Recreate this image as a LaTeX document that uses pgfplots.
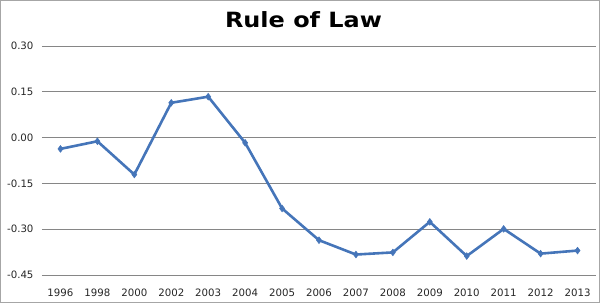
\documentclass[border=0pt]{standalone}
\usepackage{pgfplots}
\pgfplotsset{compat=1.18}
\usepackage{fontspec}
\setmainfont{DejaVu Sans}
\definecolor{linec}{HTML}{4575B9}
\definecolor{gridc}{HTML}{868686}
\definecolor{borderc}{HTML}{A6A6A6}
\begin{document}
\begin{tikzpicture}
\begin{axis}[
  scale only axis,
  width=554bp, height=229bp,
  at={(0,0)}, anchor=south west,
  xmin=-0.5, xmax=14.5,
  ymin=-0.45, ymax=0.30,
  xtick=data,
  xticklabels={1996,1998,2000,2002,2003,2004,2005,2006,2007,2008,2009,2010,2011,2012,2013},
  ytick={-0.45,-0.30,-0.15,0,0.15,0.30},
  yticklabels={-0.45,-0.30,-0.15,0.00,0.15,0.30},
  axis line style={draw=none},
  ymajorgrids,
  grid style={gridc, line width=0.9bp},
  major tick length=0pt,
  tick label style={font=\fontsize{10.2bp}{12bp}\selectfont, text=black!85},
  yticklabel style={anchor=east, xshift=-5bp},
  xticklabel style={anchor=north, yshift=-10.5bp},
  clip=false,
]
\addplot[color=linec, line width=2.6bp, mark=diamond*, mark size=3.4bp, mark options={fill=linec, line width=0.5bp}]
coordinates {
(0,-0.037) (1,-0.012) (2,-0.121) (3,0.114) (4,0.134) (5,-0.017) (6,-0.232) (7,-0.336) (8,-0.383) (9,-0.376) (10,-0.276) (11,-0.388) (12,-0.299) (13,-0.380) (14,-0.370)
};
\end{axis}
\node[anchor=base, font=\bfseries\fontsize{21bp}{24bp}\selectfont, inner sep=0pt, xscale=1.14] at (261.5bp,247.7bp) {Rule of Law};
\draw[borderc, line width=1bp] (-41.5bp,-27.5bp) rectangle (557.5bp,274.5bp);
\useasboundingbox (-42bp,-28bp) rectangle (558bp,275bp);
\end{tikzpicture}
\end{document}
